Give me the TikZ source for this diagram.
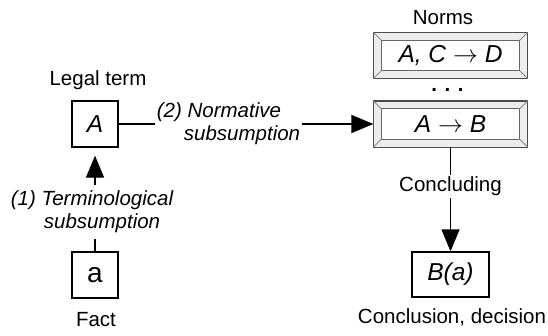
\documentclass[tikz,border=0pt]{standalone}
\usepackage{fontspec}
\setmainfont{Liberation Sans}
\usetikzlibrary{arrows.meta,positioning}

\tikzset{
  txt/.style={font=\fontsize{20.5}{23}\selectfont, inner sep=2pt},
  itxt/.style={txt, font=\fontsize{20.5}{23}\selectfont\itshape},
  big/.style={font=\fontsize{24.5}{27}\selectfont},
  box/.style={txt, big, draw, line width=1.3pt, minimum width=46pt, minimum height=46pt},
  normbox/.style={txt, big, draw=black!70, fill=white, line width=1.2pt, minimum width=153pt, minimum height=45pt},
  conn/.style={line width=1.3pt},
  tri/.style={conn, -{Triangle[length=22pt,width=18pt]}},
}

\begin{document}
\begin{tikzpicture}[x=1pt,y=-1pt]
  \useasboundingbox (0,0) rectangle (548,335);

  % Boxes
  \node[box] (termA) at (95,124) {\itshape A};
  \node[box, font=\fontsize{28}{30}\selectfont] (facta) at (95,275) {a};
  \node[normbox] (norm1) at (450.5,55.5) {\textit{A, C} $\rightarrow$ \textit{D}};
  \node[normbox] (norm2) at (450.5,124) {\textit{A} $\rightarrow$ \textit{B}};
  \node[box, minimum width=77pt, minimum height=45pt] (concl) at (450.5,274.5) {\itshape B(a)};

  % Bevel of the norms
  \foreach \n in {norm1,norm2} {
    \fill[black!7, even odd rule] (\n.north west) rectangle (\n.south east)
      ([shift={(8,8)}]\n.north west) rectangle ([shift={(-8,-8)}]\n.south east);
    \draw[black!70, line width=1.2pt] (\n.north west) rectangle (\n.south east);
    \draw[black!60, line width=1pt] ([shift={(8,8)}]\n.north west) rectangle ([shift={(-8,-8)}]\n.south east);
    \draw[black!45, line width=0.8pt] (\n.north west) -- +(8,8) (\n.north east) -- +(-8,8)
      (\n.south west) -- +(8,-8) (\n.south east) -- +(-8,-8);
  }

  % Labels
  \node[txt, anchor=base] (norms) at (443,24) {Norms};
  \node[txt, anchor=base] (dots) at (447.5,91.5) {\textbf{. . .}};
  \node[txt, anchor=base] (legal) at (98,85) {Legal term};
  \node[txt, anchor=base] (fact) at (96,326) {Fact};
  \node[txt, anchor=base] (decision) at (452,323) {Conclusion, decision};

  % Connector labels
  \node[itxt, align=left, inner ysep=6pt] (lblterm) at (92,212) {(1) Terminological\\\hspace*{33pt}subsumption};
  \node[itxt, align=left] (lblnorm) at (228.5,124) {(2) Normative\\\hspace*{27pt}subsumption};
  \node[txt] (lblconc) at (450.5,186.5) {Concluding};

  % Connectors
  \draw[conn] (facta) -- (facta |- lblterm.south);
  \draw[tri, shorten >=8pt] (termA |- lblterm.north) -- (termA);
  \draw[conn] (termA) -- (lblnorm);
  \draw[tri] (lblnorm) -- (norm2);
  \draw[conn] (norm2) -- (lblconc);
  \draw[tri] (lblconc) -- (concl);
\end{tikzpicture}
\end{document}
